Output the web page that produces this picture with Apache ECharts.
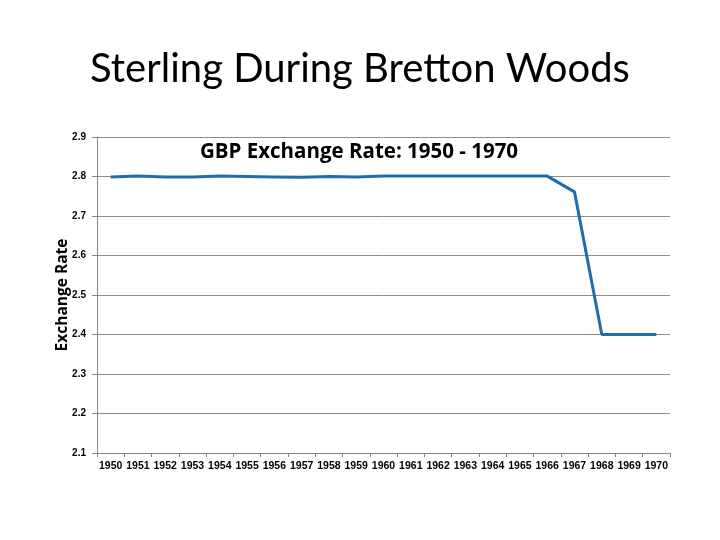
<!DOCTYPE html>
<html><head><meta charset="utf-8">
<script src="https://cdn.jsdelivr.net/npm/echarts@6/dist/echarts.min.js"></script>
<style>html,body{margin:0;padding:0;background:#fff}#c{width:720px;height:540px}</style>
</head><body><div id="c"></div>
<script>
const years = ['1950','1951','1952','1953','1954','1955','1956','1957','1958','1959','1960','1961','1962','1963','1964','1965','1966','1967','1968','1969','1970'];
const rates = [2.799,2.801,2.799,2.799,2.801,2.800,2.799,2.798,2.800,2.799,2.801,2.801,2.801,2.801,2.801,2.801,2.801,2.761,2.400,2.400,2.400];
const yTicks = {min:2.1, max:2.9, interval:0.1};

const chart = echarts.init(document.getElementById('c'), null, {renderer:'canvas'});
chart.setOption({
  animation:false,
  backgroundColor:'#fff',
  title:[
    {text:'Sterling During Bretton Woods', left:'center', top:44,
     textStyle:{fontFamily:'Lato', fontSize:40, fontWeight:'normal', color:'#000'}},
    {text:'GBP Exchange Rate: 1950 - 1970', left:354, textAlign:'center', top:137,
     textStyle:{fontFamily:'Open Sans', fontSize:20.5, fontWeight:'bold', color:'#000'}}
  ],
  grid:{left:97, right:50, top:137, bottom:87, containLabel:false},
  xAxis:{type:'category', data:years, boundaryGap:true,
    axisLine:{lineStyle:{color:'#868686', width:1}},
    axisTick:{show:true, length:4, lineStyle:{color:'#868686'}},
    axisLabel:{fontFamily:'Liberation Sans', fontWeight:'bold', fontSize:10.5, color:'#000', margin:8, interval:0}
  },
  yAxis:{type:'value', min:yTicks.min, max:yTicks.max, interval:yTicks.interval,
    name:'Exchange Rate', nameLocation:'middle', nameGap:26.5, nameRotate:90, nameMoveOverlap:false,
    nameTextStyle:{fontFamily:'Open Sans', fontSize:15.5, fontWeight:'bold', color:'#000'},
    axisLine:{show:true, lineStyle:{color:'#868686'}},
    axisTick:{show:true, length:5, lineStyle:{color:'#868686'}},
    splitLine:{lineStyle:{color:'#8c8c8c', width:1}},
    axisLabel:{fontFamily:'Liberation Sans', fontWeight:'bold', fontSize:10, color:'#000', margin:11,
      formatter:v=>v.toFixed(1)}
  },
  series:[{type:'line', data:rates, symbol:'none', lineStyle:{color:'#1f6eab', width:3}}]
});
</script></body></html>
